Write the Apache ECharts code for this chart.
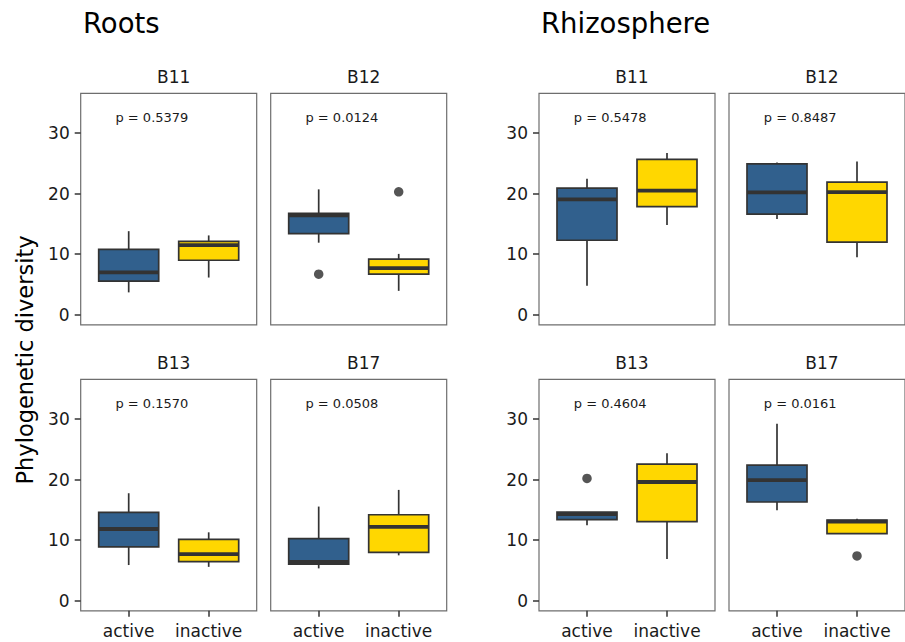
<!DOCTYPE html>
<html><head><meta charset="utf-8">
<script src="https://cdn.jsdelivr.net/npm/echarts@6/dist/echarts.min.js"></script>
<style>html,body{margin:0;padding:0;background:#fff}#c{width:905px;height:642px}</style>
</head><body><div id="c"></div>
<script>
// ---- data ----
const habitats = ['Roots', 'Rhizosphere'];
const facets = ['B11', 'B12', 'B13', 'B17'];
const groups = ['active', 'inactive'];
const yTicks = [0, 10, 20, 30];
const yTitle = 'Phylogenetic diversity';
// p-values per facet
const rootsP = ['0.5379', '0.0124', '0.1570', '0.0508'];
const rhizoP = ['0.5478', '0.8487', '0.4604', '0.0161'];
// box stats per facet: [lower whisker, Q1, median, Q3, upper whisker]
const rootsActive = [[3.7, 5.55, 7.0, 10.8, 13.8], [11.9, 13.4, 16.4, 16.75, 20.7], [5.9, 8.9, 11.85, 14.6, 17.75], [5.35, 6.05, 6.4, 10.25, 15.55]];
const rootsInactive = [[6.15, 9.0, 11.5, 12.1, 13.1], [3.95, 6.7, 7.7, 9.2, 10.05], [5.6, 6.45, 7.7, 10.15, 11.3], [7.5, 8.0, 12.2, 14.2, 18.3]];
const rhizoActive = [[4.8, 12.3, 19.05, 20.9, 22.45], [15.8, 16.6, 20.2, 24.9, 25.15], [12.45, 13.4, 14.3, 14.65, 14.65], [14.95, 16.3, 19.9, 22.4, 29.2]];
const rhizoInactive = [[14.8, 17.85, 20.5, 25.65, 26.7], [9.5, 12.0, 20.25, 21.9, 25.3], [6.9, 13.05, 19.6, 22.55, 24.35], [11.1, 11.1, 13.05, 13.3, 13.55]];
// outliers per facet: [group index (1=active, 2=inactive), value]
const rootsOutliers = [[], [[1, 6.7], [2, 20.3]], [], []];
const rhizoOutliers = [[], [], [[1, 20.2]], [[2, 7.4]]];

// ---- style / layout ----
const FONT = 'DejaVu Sans';
const fillColors = ['#31608D', '#FFD700'];
const colLefts = [80.7, 270.7, 539, 729];
const rowTops = [93.3, 379.3];
const PW = 176, PH = 231.5;
const Y_MIN = -1.65, Y_MAX = 36.55;

const stats = [[rootsActive, rootsInactive], [rhizoActive, rhizoInactive]];
const outliers = [rootsOutliers, rhizoOutliers];
const pvals = [rootsP, rhizoP];

function renderBox(params, api) {
  const x = api.value(0), lo = api.value(1), q1 = api.value(2), med = api.value(3), q3 = api.value(4), hi = api.value(5);
  const half = 0.375;
  const tl = api.coord([x - half, q3]), br = api.coord([x + half, q1]);
  const pHi = api.coord([x, hi]), pQ3 = api.coord([x, q3]), pQ1 = api.coord([x, q1]), pLo = api.coord([x, lo]);
  const m1 = api.coord([x - half, med]), m2 = api.coord([x + half, med]);
  const stroke = '#333333';
  return {
    type: 'group', children: [
      { type: 'line', shape: { x1: pHi[0], y1: pHi[1], x2: pQ3[0], y2: pQ3[1] }, style: { stroke, lineWidth: 1.7 } },
      { type: 'line', shape: { x1: pLo[0], y1: pLo[1], x2: pQ1[0], y2: pQ1[1] }, style: { stroke, lineWidth: 1.7 } },
      { type: 'rect', shape: { x: tl[0], y: tl[1], width: br[0] - tl[0], height: br[1] - tl[1] }, style: { fill: fillColors[Math.round(x) - 1], stroke, lineWidth: 1.7 } },
      { type: 'line', shape: { x1: m1[0], y1: m1[1], x2: m2[0], y2: m2[1] }, style: { stroke, lineWidth: 3.8 } }
    ]
  };
}
function renderP(params, api) {
  const p = api.coord([api.value(0), api.value(1)]);
  return { type: 'text', x: p[0], y: p[1], style: { text: 'p = ' + pvals[api.value(2)][api.value(3)], fill: '#1a1a1a', font: '13px "' + FONT + '"', align: 'center', verticalAlign: 'middle' } };
}

const grid = [], xAxis = [], yAxis = [], series = [], title = [];
for (let h = 0; h < 2; h++) {
  for (let f = 0; f < 4; f++) {
    const g = h * 4 + f;
    const col = h * 2 + (f % 2), row = Math.floor(f / 2);
    const showY = (f % 2) === 0, showX = row === 1;
    grid.push({ left: colLefts[col], top: rowTops[row], width: PW, height: PH, show: true, borderColor: '#6E6E6E', borderWidth: 1.2, backgroundColor: '#fff' });
    xAxis.push({
      type: 'value', gridIndex: g, min: 0.4, max: 2.6, position: 'bottom',
      axisLine: { show: false, onZero: false }, splitLine: { show: false },
      axisTick: { show: showX, customValues: [1, 2], length: 6, lineStyle: { color: '#333', width: 1.5 } },
      axisLabel: { show: showX, customValues: [1, 2], formatter: v => groups[Math.round(v) - 1], fontFamily: FONT, fontSize: 17, color: '#1a1a1a', margin: 12 }
    });
    yAxis.push({
      type: 'value', gridIndex: g, min: Y_MIN, max: Y_MAX, position: 'left',
      axisLine: { show: false, onZero: false }, splitLine: { show: false },
      axisTick: { show: showY, customValues: yTicks, length: 6, lineStyle: { color: '#333', width: 1.5 } },
      axisLabel: { show: showY, customValues: yTicks, fontFamily: FONT, fontSize: 17, color: '#1a1a1a', margin: 11 }
    });
    const boxData = groups.map((gr, i) => [i + 1].concat(stats[h][i][f]));
    series.push({ type: 'custom', xAxisIndex: g, yAxisIndex: g, renderItem: renderBox, data: boxData, encode: { x: 0, y: [1, 2, 3, 4, 5] }, silent: true, clip: false });
    series.push({ type: 'scatter', xAxisIndex: g, yAxisIndex: g, data: outliers[h][f], symbolSize: 9.5, itemStyle: { color: '#2b2b2b' }, silent: true });
    series.push({ type: 'custom', xAxisIndex: g, yAxisIndex: g, renderItem: renderP, data: [[1.29, 32.5, h, f]], encode: { x: 0, y: 1 }, silent: true });
    title.push({ text: facets[f], left: colLefts[col] + PW / 2, top: rowTops[row] - 30, textAlign: 'center', textStyle: { fontFamily: FONT, fontSize: 17, fontWeight: 'normal', color: '#1a1a1a' } });
  }
  title.push({ text: habitats[h], left: h === 0 ? 78 : 536, top: 4, textStyle: { fontFamily: FONT, fontSize: 27.5, fontWeight: 'normal', color: '#000' } });
}

const chart = echarts.init(document.getElementById('c'), null, { renderer: 'svg' });
chart.setOption({
  animation: false,
  backgroundColor: '#fff',
  title, grid, xAxis, yAxis, series,
  graphic: [{ type: 'text', x: 25, y: 360, rotation: Math.PI / 2, style: { text: yTitle, fill: '#000', font: '22.5px "' + FONT + '"', align: 'center', verticalAlign: 'middle' } }]
});
</script></body></html>
